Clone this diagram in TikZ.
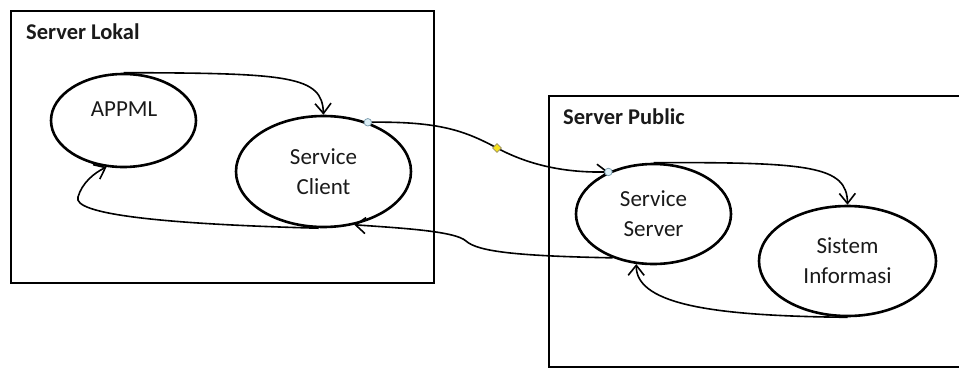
\documentclass[tikz,border=0pt]{standalone}
\usepackage{fontspec}
\setmainfont{Carlito}
\usetikzlibrary{shapes.geometric,arrows.meta}
\definecolor{cpfill}{HTML}{DCEFF7}
\definecolor{cpdraw}{HTML}{7F9FB0}
\definecolor{dmfill}{HTML}{F7E21C}
\definecolor{dmdraw}{HTML}{9A9060}
\definecolor{txt}{HTML}{1A1A1A}
\begin{document}
\begin{tikzpicture}[x=1pt,y=-1pt,
  box/.style={draw,line width=2.2pt,inner sep=0pt,anchor=north west},
  boxlabel/.style={font=\bfseries\fontsize{22.5}{26}\selectfont,inner sep=0pt,anchor=base west,text=txt},
  proc/.style={draw,ellipse,line width=2.6pt,inner sep=0pt,align=center,text=txt,
    font=\fontsize{23}{30}\selectfont},
  conn/.style={line width=1.6pt,-{Straight Barb[length=10pt,width=16pt]}},
  cpoint/.style={circle,draw=cpdraw,fill=cpfill,line width=0.8pt,inner sep=0pt,minimum size=7.5pt},
  dpoint/.style={diamond,draw=dmdraw,fill=dmfill,line width=0.7pt,inner sep=0pt,minimum size=9pt}
]
\useasboundingbox (0,0) rectangle (959,367);
\fill[white] (0,0) rectangle (959,367);

% boxes
\node[box,minimum width=423pt,minimum height=272pt] (lokal) at (10,10) {};
\node[box,minimum width=420pt,minimum height=271pt] (public) at (548,95) {};
\node[boxlabel] (lokallabel) at (26,39) {Server Lokal};
\node[boxlabel] (publiclabel) at (563,124) {Server Public};

% processes
\node[proc,minimum width=145pt,minimum height=93pt] (appml) at (123.5,120.5) {};
\node[inner sep=0pt,anchor=base,text=txt,font=\fontsize{23}{30}\selectfont] (appmllabel) at (124,116) {APPML};
\node[proc,minimum width=175pt,minimum height=111pt] (sc) at (323.5,171.5) {Service\\Client};
\node[proc,minimum width=155pt,minimum height=100pt] (ss) at (653.5,214) {Service\\Server};
\node[proc,minimum width=177pt,minimum height=110pt] (si) at (847.5,261) {Sistem\\Informasi};

\coordinate (dm) at (497,148);

% connectors
\draw[conn] (appml.north) .. controls (290,73) and (322,76) .. (sc.north);
\draw[conn] (sc.265) .. controls (160,224) and (72,214) .. (78,197)
            .. controls (82,183) and (94,173) .. (appml.250);
\draw[conn] (sc.48) .. controls (440,121) and (465,131) .. (dm)
            .. controls (525,163) and (560,173) .. (ss.137);
\draw[conn] (ss.227) .. controls (520,256) and (478,252) .. (466,241)
            .. controls (455,231) and (400,228) .. (sc.300);
\draw[conn] (ss.north) .. controls (810,162) and (847,166) .. (si.north);
\draw[conn] (si.south) .. controls (720,316) and (636,306) .. (ss.251);

% connection point glyphs
\node[cpoint] (cp1) at (sc.48) {};
\node[dpoint] (dp) at (dm) {};
\node[cpoint] (cp2) at (ss.137) {};
\end{tikzpicture}
\end{document}
